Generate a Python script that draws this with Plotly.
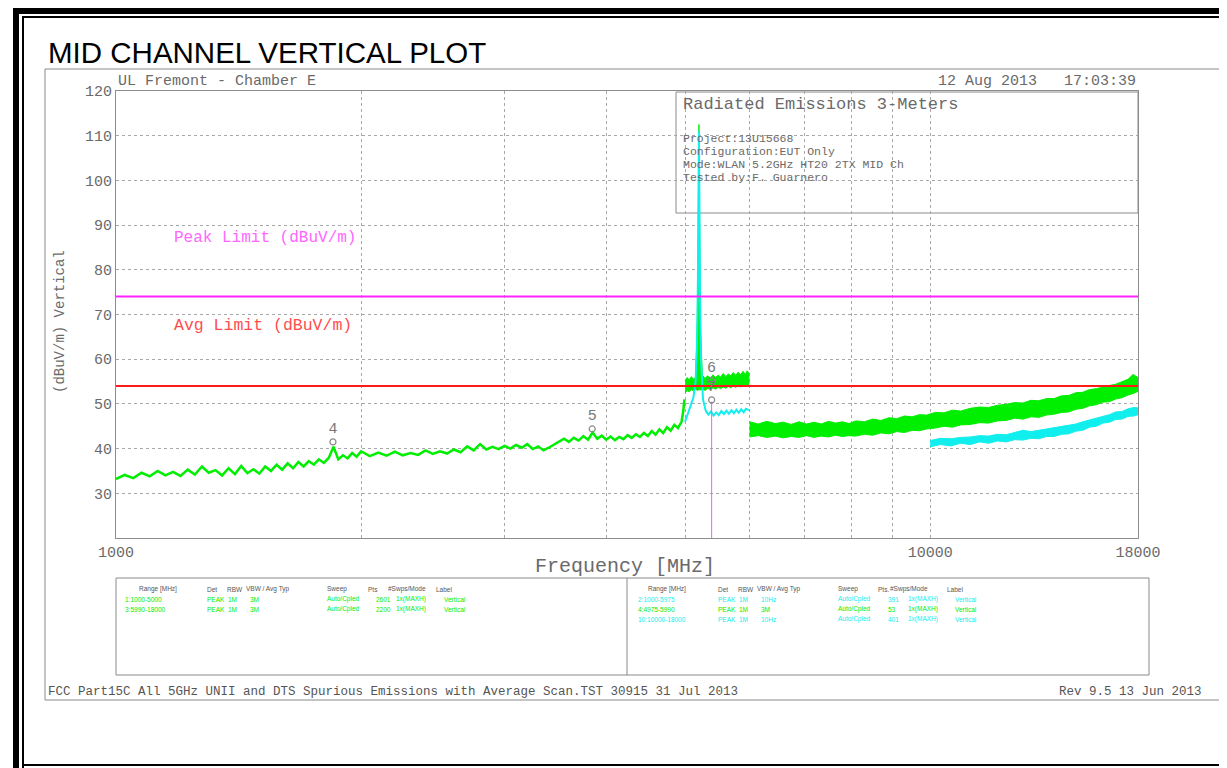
import math
import plotly.graph_objects as go

# ---------------- DATA ----------------
F_START, F_STOP = 1000, 18000
PEAK_LIMIT = 74
AVG_LIMIT = 54

X_TICKS = [1000, 2000, 3000, 4000, 5000, 6000, 7000, 8000, 9000, 10000, 18000]
X_TICK_TEXT = ["1000", "", "", "", "", "", "", "", "", "10000", "18000"]
Y_TICKS = [30, 40, 50, 60, 70, 80, 90, 100, 110, 120]
Y_TICK_TEXT = ["30", "40", "50", "60", "70", "80", "90", "100", "110", "120"]

# Green peak trace, 1000-5000 MHz
G1_F = [1000, 1025, 1050, 1075, 1100, 1125, 1150, 1175, 1200, 1225, 1250, 1275, 1300, 1325, 1350,
        1375, 1400, 1425, 1450, 1475, 1500, 1525, 1550, 1575, 1600, 1625, 1650, 1675, 1700, 1725,
        1750, 1775, 1800, 1825, 1850, 1875, 1900, 1925, 1950, 1975,
        2000, 2050, 2100, 2150, 2200, 2250, 2300, 2350, 2400, 2450, 2500, 2550, 2600, 2650, 2700,
        2750, 2800, 2850, 2900, 2950, 3000, 3050, 3100, 3150, 3200, 3250, 3300, 3350, 3400, 3450,
        3500, 3550, 3600, 3650, 3700, 3750, 3800, 3850, 3900, 3950, 4000, 4050, 4100, 4150, 4200,
        4250, 4300, 4350, 4400, 4450, 4500, 4550, 4600, 4650, 4700, 4750, 4800, 4850, 4900, 4950,
        4975, 4990]
G1_V = [33.2, 34.1, 33.4, 34.6, 33.8, 35.0, 34.0, 34.8, 33.9, 35.3, 34.2, 36.0, 34.6, 35.2, 34.0,
        35.6, 34.3, 36.1, 34.5, 35.4, 34.4, 36.0, 35.0, 36.4, 35.3, 36.7, 35.6, 37.0, 36.0, 37.2,
        36.4, 37.6, 36.8, 37.9, 40.4, 37.6, 38.5, 37.8, 39.0, 38.2,
        39.4, 38.3, 39.1, 38.4, 39.3, 38.5, 39.0, 38.6, 39.6, 38.8, 39.4, 38.9, 39.8, 39.2, 40.5,
        39.6, 41.0, 39.8, 40.4, 39.9, 40.6, 40.0, 40.8, 40.2, 41.0, 39.9, 40.5, 39.6, 40.2, 40.9,
        41.6, 42.2, 41.5, 42.4, 41.8, 42.8, 42.0, 43.6, 42.2, 42.9, 42.0, 42.7, 41.9, 42.6, 42.1,
        43.0, 42.4, 43.2, 42.6, 43.5, 42.8, 43.9, 43.1, 44.3, 43.5, 44.8, 44.0, 45.3, 44.6, 46.0,
        48.5, 51.0]

# Green peak band, 5000-5990 MHz (low / high envelope)
G2_F = [5000, 5030, 5060, 5090, 5120, 5150, 5180, 5200, 5220, 5250, 5290, 5330, 5370, 5410, 5450,
        5490, 5530, 5570, 5610, 5650, 5690, 5730, 5770, 5810, 5850, 5890, 5930, 5960, 5990]
G2_LO = [52.4, 53.0, 52.7, 53.2, 52.9, 53.3, 53.0, 53.2, 53.1, 53.4, 53.0, 53.5, 53.2, 53.6, 53.3,
         53.7, 53.4, 53.8, 53.5, 53.9, 53.6, 54.0, 53.7, 54.1, 53.8, 54.2, 53.9, 54.2, 54.0]
G2_HI = [55.2, 55.9, 55.4, 56.1, 55.5, 56.0, 70.0, 112.5, 68.0, 56.4, 55.7, 56.3, 55.8, 56.5, 55.9,
         56.4, 56.0, 56.8, 56.1, 56.7, 56.3, 57.0, 56.4, 57.1, 56.5, 57.3, 56.6, 57.4, 56.8]

# Green peak band, 6000-18000 MHz
G3_F = [6000, 6150, 6300, 6450, 6600, 6750, 6900, 7050, 7200, 7350, 7500, 7650, 7800, 7950, 8100,
        8300, 8500, 8700, 8900, 9100, 9300, 9500, 9700, 9900, 10150, 10400, 10650, 10900, 11200,
        11500, 11800, 12100, 12400, 12700, 13000, 13300, 13600, 13900, 14200, 14500, 14800, 15100,
        15400, 15700, 16000, 16300, 16600, 16900, 17200, 17500, 17750, 18000]
G3_LO = [42.6, 42.9, 42.5, 42.8, 42.4, 42.7, 42.5, 42.9, 42.5, 42.8, 42.6, 43.0, 42.7, 42.9, 42.8,
         43.2, 43.0, 43.5, 43.3, 43.8, 43.6, 44.1, 44.0, 44.4, 44.6, 45.0, 44.8, 45.3, 45.4,
         45.8, 45.7, 46.2, 46.3, 46.8, 46.6, 47.1, 47.0, 47.5, 47.7, 48.1, 48.2, 48.8,
         49.0, 49.6, 49.8, 50.4, 50.5, 51.1, 51.4, 52.0, 52.3, 52.8]
G3_HI = [46.0, 45.5, 46.1, 45.6, 45.9, 45.4, 46.0, 45.5, 45.9, 45.5, 46.1, 45.7, 46.0, 45.6, 46.2,
         46.0, 46.6, 46.3, 46.9, 46.7, 47.3, 47.1, 47.6, 47.5, 48.1, 48.0, 48.6, 48.4, 49.0,
         49.3, 49.2, 49.7, 49.9, 50.3, 50.2, 50.8, 50.7, 51.2, 51.2, 51.8, 51.9, 52.5,
         52.6, 53.2, 53.4, 53.8, 54.1, 54.4, 54.9, 55.5, 56.6, 55.9]

# Cyan average trace, 5000-5990 MHz
C1_F = [5000, 5030, 5060, 5090, 5120, 5150, 5170, 5185, 5200, 5215, 5230, 5260, 5300, 5340, 5380,
        5420, 5460, 5500, 5540, 5580, 5620, 5660, 5700, 5740, 5780, 5820, 5860, 5900, 5940, 5990]
C1_V = [46.0, 47.5, 48.5, 50.0, 51.5, 55.0, 62.0, 78.0, 111.0, 76.0, 60.0, 51.0, 48.5, 47.6, 48.3,
        47.4, 48.1, 47.5, 48.4, 47.7, 48.5, 47.8, 48.6, 47.9, 48.7, 48.0, 48.8, 48.1, 48.9, 48.6]

# Cyan average band, 10000-18000 MHz
C2_F = [10000, 10300, 10600, 10900, 11200, 11500, 11800, 12100, 12400, 12700, 13000, 13300, 13600,
        13900, 14200, 14500, 14800, 15100, 15400, 15700, 16000, 16300, 16600, 16900, 17200, 17500,
        17800, 18000]
C2_LO = [40.4, 40.9, 40.6, 41.2, 40.9, 41.5, 41.2, 41.7, 41.5, 42.0, 41.9, 42.3, 42.2, 42.7, 42.7,
         43.2, 43.3, 43.9, 44.1, 44.8, 45.0, 45.7, 45.9, 46.5, 46.6, 47.2, 47.3, 47.6]
C2_HI = [41.8, 42.3, 42.2, 42.5, 42.6, 42.9, 42.8, 43.2, 43.1, 43.6, 44.1, 43.8, 44.1, 44.3, 44.6,
         44.8, 45.2, 45.5, 46.0, 46.4, 46.8, 47.3, 47.6, 48.2, 48.3, 48.9, 49.2, 49.1]

# Markers
M_F = [1847, 3845, 5390, 5390]
M_V = [41.5, 44.4, 55.2, 50.9]
M_LABEL = ["4", "5", "6", "7"]
MKR_LINE_F = 5390
MKR_LINE_V = [20, 50.5]

for a, b in [(G1_F, G1_V), (G2_F, G2_LO), (G2_F, G2_HI), (G3_F, G3_LO), (G3_F, G3_HI),
             (C1_F, C1_V), (C2_F, C2_LO), (C2_F, C2_HI)]:
    assert len(a) == len(b), (len(a), len(b))

# ---------------- STYLE ----------------
W, H = 1227, 768          # reference picture size
OX, OY = 8, 8             # page body margin offset
L, R, T, B = 116, 1138, 91, 538   # plot area in reference pixels
MONO = "Liberation Mono"
SANS = "Liberation Sans"
GRAY = "#6a6a6a"
GREEN = "#00ee00"
CYAN = "#11eeee"


def px(x):
    return (x - L) / (R - L)


def py(y):
    return (B - y) / (B - T)


ann = []
shapes = []


def text(s, x, y, size, color, font=MONO, xanchor="left", yanchor="middle", angle=0):
    ann.append(dict(text=s, x=px(x), y=py(y), xref="paper", yref="paper", showarrow=False,
                    xanchor=xanchor, yanchor=yanchor, textangle=angle,
                    font=dict(family=font, size=size, color=color)))


def pline(x0, y0, x1, y1, color, width=1, layer="above"):
    shapes.append(dict(type="line", xref="paper", yref="paper", x0=px(x0), y0=py(y0),
                       x1=px(x1), y1=py(y1), line=dict(color=color, width=width), layer=layer))


def prect(x0, y0, x1, y1, line_color=None, fill=None, width=1, layer="above"):
    d = dict(type="rect", xref="paper", yref="paper", x0=px(x0), y0=py(y0), x1=px(x1), y1=py(y1),
             layer=layer)
    d["line"] = dict(color=line_color, width=width) if line_color else dict(width=0)
    if fill:
        d["fillcolor"] = fill
    shapes.append(d)


fig = go.Figure()


def band(f, lo, hi, color):
    fig.add_trace(go.Scatter(x=f + f[::-1], y=hi + lo[::-1], mode="lines", fill="toself",
                             fillcolor=color, line=dict(color=color, width=1),
                             hoverinfo="skip", showlegend=False))


# green traces
fig.add_trace(go.Scatter(x=G1_F, y=G1_V, mode="lines", line=dict(color=GREEN, width=2.5),
                         showlegend=False))
band(G2_F, G2_LO, G2_HI, GREEN)
band(G3_F, G3_LO, G3_HI, GREEN)
# cyan traces
fig.add_trace(go.Scatter(x=C1_F, y=C1_V, mode="lines", line=dict(color=CYAN, width=2),
                         showlegend=False))
band(C2_F, C2_LO, C2_HI, CYAN)

# marker line
fig.add_trace(go.Scatter(x=[MKR_LINE_F, MKR_LINE_F], y=MKR_LINE_V, mode="lines",
                         line=dict(color="#ff55ff", width=1), showlegend=False))
# limit lines
fig.add_trace(go.Scatter(x=[F_START, F_STOP], y=[PEAK_LIMIT, PEAK_LIMIT], mode="lines",
                         line=dict(color="#ff22ff", width=2), showlegend=False))
fig.add_trace(go.Scatter(x=[F_START, F_STOP], y=[AVG_LIMIT, AVG_LIMIT], mode="lines",
                         line=dict(color="#ff1a1a", width=2), showlegend=False))
# markers
fig.add_trace(go.Scatter(x=M_F, y=M_V, mode="markers+text", text=M_LABEL,
                         textposition="top center",
                         textfont=dict(family=MONO, size=15, color="#777777"),
                         marker=dict(symbol="circle-open", size=6, color="#888888",
                                     line=dict(width=1.2)),
                         showlegend=False, cliponaxis=False))

# ---------------- DECORATION ----------------
# outer black frame
prect(13, 7, 1240, 14, fill="black")
prect(13, 7, 19, 790, fill="black")
pline(22, 17, 1240, 17, "black", 2)
pline(23, 16, 23, 790, "black", 2)
pline(22, 765, 1240, 765, "black", 2)

# panel frame
pline(45, 69, 1240, 69, "#8a8a8a", 1)
pline(45, 69, 45, 700, "#8a8a8a", 1)
pline(45, 700, 1240, 700, "#8a8a8a", 1)

# title
text("MID CHANNEL VERTICAL PLOT", 46, 52, 29.5, "black", font=SANS)

# header
text("UL Fremont - Chamber E", 116, 81, 15, GRAY)
text("12 Aug 2013   17:03:39", 1138, 81, 15, GRAY, xanchor="right")

# info box
prect(676, 92, 1138, 213, line_color="#8a8a8a", fill="white", layer="between")
text("Radiated Emissions 3-Meters", 681, 104, 17, GRAY)
text("Project:13U15668", 681, 138, 11.5, GRAY)
text("Configuration:EUT Only", 681, 151, 11.5, GRAY)
text("Mode:WLAN 5.2GHz HT20 2TX MID Ch", 681, 164, 11.5, GRAY)
text("Tested by:F. Guarnero", 681, 177, 11.5, GRAY)

# limit labels
text("Peak Limit (dBuV/m)", 172, 238, 16, "#ff66ff")
text("Avg Limit (dBuV/m)", 172, 325, 16.5, "#ff4d4d")

# axis titles
text("(dBuV/m) Vertical", 60, 322, 14, GRAY, xanchor="center", angle=-90)
text("Frequency [MHz]", 625, 566, 20, GRAY, xanchor="center")

# table
prect(116, 578, 1149, 675, line_color="#8a8a8a", width=1)
pline(627, 578, 627, 675, "#8a8a8a", 1)
HDR = "#555555"
TS = 6.5
for s, x in [("Range [MHz]", 137), ("Det", 205), ("RBW", 225), ("VBW / Avg Typ", 244),
             ("Sweep", 325), ("Pts", 366), ("#Swps/Mode", 386), ("Label", 434)]:
    text(s, x, 589, TS, HDR, font=SANS)
for s, x in [("Range [MHz]", 646), ("Det", 716), ("RBW", 736), ("VBW / Avg Typ", 755),
             ("Sweep", 836), ("Pts.", 876), ("#Swps/Mode", 888), ("Label", 945)]:
    text(s, x, 589, TS, HDR, font=SANS)

left_rows = [
    (599, GREEN, ["1:1000-5000", "PEAK", "1M", "3M", "Auto/Cpled", "2601", "1x(MAXH)", "Vertical"]),
    (609, GREEN, ["3:5990-18000", "PEAK", "1M", "3M", "Auto/Cpled", "2200", "1x(MAXH)", "Vertical"]),
]
left_x = [123, 205, 226, 248, 325, 374, 394, 442]
for y, c, cells in left_rows:
    for s, x in zip(cells, left_x):
        text(s, x, y, TS, c, font=SANS)

right_rows = [
    (599, CYAN, ["2:1000-5975", "PEAK", "1M", "10Hz", "Auto/Cpled", "391", "1x(MAXH)", "Vertical"]),
    (609, GREEN, ["4:4975-5990", "PEAK", "1M", "3M", "Auto/Cpled", "53", "1x(MAXH)", "Vertical"]),
    (619, CYAN, ["10:10000-18000", "PEAK", "1M", "10Hz", "Auto/Cpled", "401", "1x(MAXH)", "Vertical"]),
]
right_x = [636, 716, 737, 759, 836, 886, 906, 953]
for y, c, cells in right_rows:
    for s, x in zip(cells, right_x):
        text(s, x, y, TS, c, font=SANS)

# footer
text("FCC Part15C All 5GHz UNII and DTS Spurious Emissions with Average Scan.TST 30915 31 Jul 2013",
     46, 692, 12.5, "#555555")
text("Rev 9.5 13 Jun 2013", 1204, 692, 12.5, "#555555", xanchor="right")

# ---------------- LAYOUT ----------------
grid = dict(showgrid=True, gridcolor="#a8a8a8", gridwidth=1, griddash="dot",
            showline=True, linecolor="#8c8c8c", linewidth=1, mirror=True,
            zeroline=False, ticks="", tickfont=dict(family=MONO, size=15, color=GRAY))

fig.update_layout(
    width=W - OX, height=H - OY, autosize=False,
    margin=dict(l=L - OX, r=W - R, t=T - OY, b=H - B, pad=0),
    paper_bgcolor="white", plot_bgcolor="white",
    showlegend=False,
    xaxis=dict(type="log", range=[math.log10(F_START), math.log10(F_STOP)],
               tickmode="array", tickvals=X_TICKS, ticktext=X_TICK_TEXT, **grid),
    yaxis=dict(range=[20, 120], tickmode="array", tickvals=Y_TICKS, ticktext=Y_TICK_TEXT,
               **grid),
    annotations=ann,
    shapes=shapes,
)

fig.write_html("out.html")
